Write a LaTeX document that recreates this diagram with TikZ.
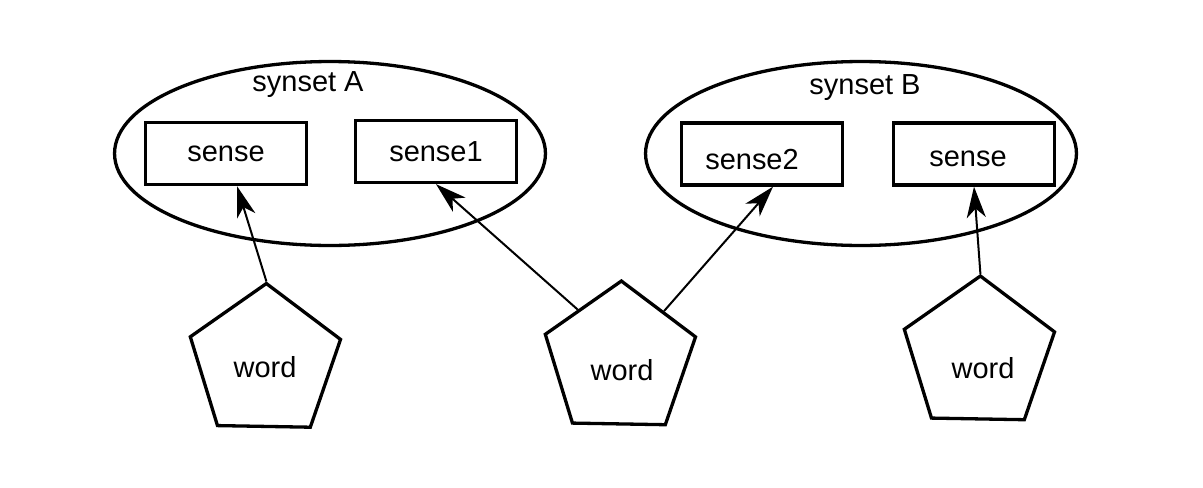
\documentclass[tikz,border=0pt]{standalone}
\usepackage{fontspec}
\setmainfont{Liberation Sans}
\usepackage{tikz}
\usetikzlibrary{arrows.meta,positioning,shapes.geometric}

\begin{document}
\begin{tikzpicture}[x=0.02cm, y=-0.02cm,
  font=\fontsize{16.5}{20}\selectfont,
  synset/.style={draw, ellipse, line width=0.066cm, minimum width=8.62cm, minimum height=3.68cm, inner sep=0},
  sensebox/.style={draw, rectangle, line width=0.066cm, minimum width=3.22cm, minimum height=1.24cm, inner sep=0},
  wordshape/.style={draw, regular polygon, regular polygon sides=5, shape border rotate=-1, line width=0.066cm, minimum size=3.16cm, inner sep=0},
  link/.style={-{Stealth[length=0.62cm, width=0.38cm, inset=0.18cm]}, line width=0.04cm}]
  \useasboundingbox (0,0) rectangle (1203,487);

  % Synset A (left)
  \node[synset] (synA) at (330,153.5) {};
  \node (synAlabel) at (308,85) {synset A};
  \node[sensebox] (senseA) at (226,153.5) {sense};
  \node[sensebox] (senseOne) at (436,151.5) {sense1};

  % Synset B (right), texts sit a little low and left
  \node[synset] (synB) at (861,153.5) {};
  \node (synBlabel) at (865,88) {synset B};
  \node[sensebox, text height=0.62cm, text depth=0pt] (senseTwo) at (762,154) {sense2\hspace*{0.4cm}};
  \node[sensebox, text height=0.48cm, text depth=0pt] (senseB) at (974,154) {sense\hspace*{0.24cm}};

  % Words
  \node[wordshape, label={[yshift=-0.1cm]center:word}] (wordL) at (265,362.5) {};
  \node[wordshape, label={[xshift=0.04cm, yshift=-0.2cm]center:word}] (wordM) at (620,360) {};
  \node[wordshape, label={[xshift=0.08cm, yshift=-0.26cm]center:word}] (wordR) at (979,355) {};

  % Links
  \draw[link] (wordL.corner 1) -- ([xshift=0.22cm]senseA.south);
  \draw[link] (wordM.130) -- (senseOne.south);
  \draw[link] (wordM.48) -- ([xshift=0.22cm]senseTwo.south);
  \draw[link] (wordR.corner 1) -- (senseB.south);
\end{tikzpicture}
\end{document}
